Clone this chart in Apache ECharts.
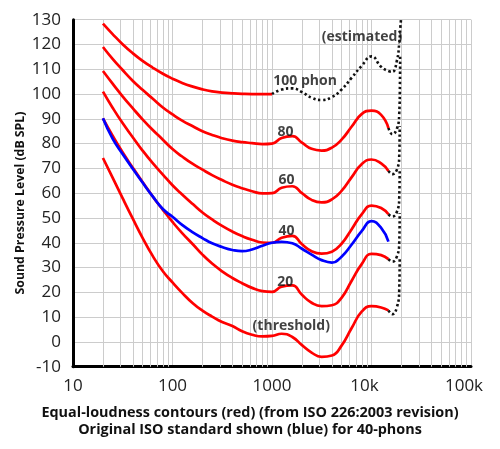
<!DOCTYPE html>
<html><head><meta charset="utf-8">
<script src="https://cdn.jsdelivr.net/npm/echarts@6.0.0/dist/echarts.min.js"></script>
<style>html,body{margin:0;padding:0;background:#fff}#c{width:500px;height:449px}</style>
</head><body><div id="c"></div>
<script>
// Frequencies (Hz) for the measured contours
const freqs = [20,25,31.5,40,50,63,80,100,125,160,200,250,315,400,500,630,800,1000,1250,1600,2000,2500,3150,4000,5000,6300,8000,10000,12500,14800];
const freqs100 = [20,25,31.5,40,50,63,80,100,125,160,200,250,315,400,500,630,800,1000];

// Levels (dB SPL)
const phon100 = [128.4,124.2,120.1,116.4,113.4,110.7,108.2,106.2,104.5,103.0,101.9,101.1,100.6,100.3,100.1,100.0,100.0,100.0];
const phon80 = [119.0,114.2,109.7,105.3,101.7,98.2,94.6,91.8,89.3,87.0,85.0,83.5,82.2,81.2,80.6,80.2,79.8,80.0,82.3,83.0,80.4,77.9,77.2,78.4,81.6,86.8,92.0,93.3,91.6,86.3];
const phon60 = [109.3,104.2,99.1,94.2,89.8,85.6,81.6,77.8,74.8,71.8,69.5,67.3,65.3,63.4,62.0,60.8,59.9,60.0,62.2,62.8,60.0,57.3,56.3,57.5,60.9,66.4,71.8,73.6,72.0,69.0];
const phon40 = [101.0,94.5,88.3,82.5,77.2,72.2,67.5,63.2,59.5,55.6,52.2,49.4,46.8,44.5,42.7,41.2,40.1,40.0,42.0,42.8,39.4,36.6,35.6,36.4,39.6,45.4,51.6,55.0,54.0,51.5];
const phon20 = [90.2,83.2,76.5,70.2,64.5,58.8,53.3,48.4,43.9,39.4,35.2,31.6,28.5,25.8,23.7,21.8,20.5,20.2,22.3,22.8,19.0,15.8,14.4,14.8,17.8,24.6,31.5,35.5,35.0,33.4];
const threshold = [74.2,66.3,58.0,49.6,42.0,34.8,28.5,24.0,19.8,15.6,12.6,10.2,8.0,6.4,4.3,2.9,2.2,2.4,3.3,2.0,-1.3,-4.3,-6.0,-5.5,-1.5,5.5,12.3,14.4,13.9,12.7];
const original40 = [90.2,82.0,75.8,69.8,64.3,58.8,53.6,50.5,47.2,44.2,41.9,39.8,38.3,37.1,36.6,37.3,38.8,40.0,40.4,39.8,37.6,35.2,33.0,32.0,34.4,39.2,44.8,48.7,46.0,40.5];

// Estimated (dotted) continuations: [freq, level]
const est100 = [[1000,100],[1250,101.8],[1600,102.3],[2000,100.8],[2500,98.5],[3150,97.6],[4000,98.8],[5000,101.8],[6300,106.5],[8000,111.5],[10000,115.2],[12500,111.0],[14800,109.3],[16200,109.0],[18000,113.5],[19000,120.5],[19500,127],[19800,130]];
const est80 = [[14800,86.3],[16200,83.8],[18000,86],[19000,92],[19300,104],[19400,116]];
const est60 = [[14800,69.0],[16200,67.7],[18000,69.5],[19000,75],[19200,87]];
const est40 = [[14800,51.5],[16200,50.6],[18000,52.5],[19000,58],[19200,70]];
const est20 = [[14800,33.4],[16200,32.4],[18000,34.5],[19000,40],[19200,52]];
const est0 = [[14800,12.7],[16200,11.2],[18000,14],[19000,21],[19200,34]];

// Minor log gridlines (Hz)
const minorGrid = [20,30,40,50,60,70,80,90,200,300,400,500,600,700,800,900,2000,3000,4000,5000,6000,7000,8000,9000,20000,30000,40000,50000,60000,70000,80000,90000];

// Annotations: text, frequency, level
const noteTexts = ['100 phon','80','60','40','20','(threshold)','(estimated)'];
const noteFreqs = [2148,1368,1400,1400,1359,1563,8020];
const noteLevels = [105.3,84.8,65.4,44.7,24.2,6.5,123.1];

const yTitle = 'Sound Pressure Level (dB SPL)';

const FONT = '"Open Sans", "Noto Sans", sans-serif';
const pair = (xs, ys) => xs.map((f, i) => [f, ys[i]]);
const red = (name, data) => ({name, type:'line', data, smooth:true, symbol:'none', z:3,
  lineStyle:{color:'#ff0000', width:2.7}});
const dot = (name, data) => ({name, type:'line', data, smooth:true, symbol:'none', z:3,
  lineStyle:{color:'#111', width:2.6, type:[2.4,2.6], cap:'butt'}});

const chart = echarts.init(document.getElementById('c'), null, {renderer:'canvas'});
chart.setOption({
  animation:false,
  backgroundColor:'#fff',
  textStyle:{fontFamily:FONT},
  grid:{left:73, right:29, top:19.7, bottom:82.3},
  title:[
    {text:'Equal-loudness contours (red) (from ISO 226:2003 revision)', left:'center', top:401,
     textStyle:{fontFamily:FONT, fontSize:14.4, fontWeight:'bold', color:'#111'}},
    {text:'Original ISO standard shown (blue) for 40-phons', left:'center', top:418,
     textStyle:{fontFamily:FONT, fontSize:14.4, fontWeight:'bold', color:'#111'}}
  ],
  graphic:[
    {type:'text', x:20, y:203, rotation:Math.PI/2, silent:true,
     style:{text:yTitle, align:'center', verticalAlign:'middle', fill:'#111',
       font:'bold 12.3px ' + FONT}}
  ],
  xAxis:{type:'log', logBase:10, min:10, max:100000, splitNumber:4,
    axisLine:{show:true, onZero:false, lineStyle:{color:'#000', width:3}},
    axisTick:{show:false},
    splitLine:{show:true, lineStyle:{color:'#cccccc', width:1}},
    axisLabel:{margin:11, fontSize:17, color:'#222', fontFamily:FONT,
      formatter:function(v){
        if (v >= 100000) return '{s|100k}';
        if (v >= 10000) return '{s|10k}';
        return String(Math.round(v));
      },
      rich:{s:{fontSize:17, color:'#222', fontFamily:FONT, padding:[0,14,0,0]}}}
  },
  yAxis:{type:'value', min:-10, max:130, interval:10,
    axisLine:{show:true, lineStyle:{color:'#000', width:3}},
    axisTick:{show:false},
    splitLine:{show:true, lineStyle:{color:'#cccccc', width:1}},
    axisLabel:{margin:12, fontSize:17, color:'#222', fontFamily:FONT}
  },
  series:[
    {name:'minor', type:'line', data:[], z:1, silent:true,
      markLine:{silent:true, z:1, symbol:'none', label:{show:false}, animation:false,
        lineStyle:{color:'#cccccc', width:1, type:'solid'},
        emphasis:{disabled:true},
        data:minorGrid.map(f => ({xAxis:f}))}},
    red('100', pair(freqs100, phon100)),
    red('80', pair(freqs, phon80)),
    red('60', pair(freqs, phon60)),
    red('40', pair(freqs, phon40)),
    red('20', pair(freqs, phon20)),
    red('threshold', pair(freqs, threshold)),
    {name:'original 40', type:'line', data:pair(freqs, original40), smooth:true, symbol:'none', z:4,
      lineStyle:{color:'#0000ff', width:2.7}},
    dot('e100', est100), dot('e80', est80), dot('e60', est60),
    dot('e40', est40), dot('e20', est20), dot('e0', est0),
    {name:'notes', type:'scatter', symbolSize:0, z:6, silent:true,
      data:noteTexts.map((t, i) => ({name:t, value:[noteFreqs[i], noteLevels[i]]})),
      label:{show:true, position:'inside', formatter:p => p.name,
        fontFamily:FONT, fontSize:14, fontWeight:'bold', color:'#111'}}
  ]
});
</script>
</body></html>
